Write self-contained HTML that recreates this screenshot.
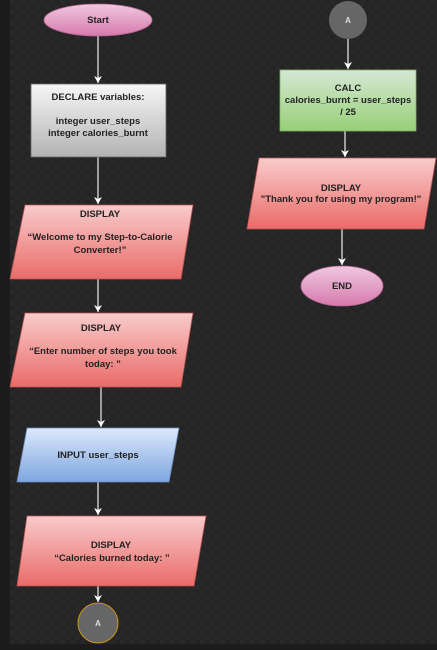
<!DOCTYPE html>
<html><head><style>
html,body{margin:0;padding:0;background:#1c1c1c;width:437px;height:650px;overflow:hidden}
svg{display:block}
text{font-family:"Liberation Sans",sans-serif;font-size:9.5px;font-weight:bold;fill:#222;text-anchor:middle}
</style></head><body>
<svg width="437" height="650" viewBox="0 0 437 650">
<defs>
<pattern id="g" width="10" height="10" patternUnits="userSpaceOnUse"><rect width="10" height="10" fill="#242424"/><rect width="5" height="5" fill="#282828"/><rect x="5" y="5" width="5" height="5" fill="#282828"/></pattern>
<linearGradient id="pk" x1="0" y1="0" x2="0" y2="1"><stop offset="0" stop-color="#f0c8e0"/><stop offset="1" stop-color="#d679ac"/></linearGradient>
<linearGradient id="gr" x1="0" y1="0" x2="0" y2="1"><stop offset="0" stop-color="#f6f6f6"/><stop offset="1" stop-color="#b3b3b3"/></linearGradient>
<linearGradient id="rd" x1="0" y1="0" x2="0" y2="1"><stop offset="0" stop-color="#f8cbcb"/><stop offset="1" stop-color="#ea6b68"/></linearGradient>
<linearGradient id="bl" x1="0" y1="0" x2="0" y2="1"><stop offset="0" stop-color="#dbe8fb"/><stop offset="1" stop-color="#7ea6e0"/></linearGradient>
<linearGradient id="gn" x1="0" y1="0" x2="0" y2="1"><stop offset="0" stop-color="#d5e8d4"/><stop offset="1" stop-color="#97d077"/></linearGradient>
<marker id="a" markerWidth="8" markerHeight="8" refX="7" refY="4" orient="auto" markerUnits="userSpaceOnUse"><path d="M0,0 L7,4 L0,8 L2,4 Z" fill="#fff"/></marker>
</defs>
<rect x="10" y="0" width="427" height="644" fill="url(#g)"/>
<g stroke="#eee" stroke-width="1.2" fill="none" marker-end="url(#a)">
<line x1="98" y1="36" x2="98" y2="83"/>
<line x1="98" y1="157" x2="98" y2="204"/>
<line x1="98" y1="279" x2="98" y2="312"/>
<line x1="101" y1="387" x2="101" y2="427"/>
<line x1="98" y1="482" x2="98" y2="515"/>
<line x1="98" y1="586" x2="98" y2="602"/>
<line x1="348" y1="39" x2="348" y2="69"/>
<line x1="345" y1="131" x2="345" y2="157"/>
<line x1="342" y1="229" x2="342" y2="265"/>
</g>
<ellipse cx="98" cy="20" rx="54" ry="16" fill="url(#pk)" stroke="#b46793" stroke-width="0.8"/>
<text x="98" y="23">Start</text>
<rect x="31" y="84" width="135" height="73" fill="url(#gr)" stroke="#666" stroke-width="0.8"/>
<text x="98" y="100">DECLARE variables:</text>
<text x="98" y="124">integer user_steps</text>
<text x="98" y="136">integer calories_burnt</text>
<polygon points="25,205 193,205 181,279 10,279" fill="url(#rd)" stroke="#b85450" stroke-width="0.8"/>
<text x="100" y="217">DISPLAY</text>
<text x="100" y="240">“Welcome to my Step-to-Calorie</text>
<text x="100" y="253">Converter!”</text>
<polygon points="25,313 193,313 181,387 10,387" fill="url(#rd)" stroke="#b85450" stroke-width="0.8"/>
<text x="101" y="331">DISPLAY</text>
<text x="103" y="354">“Enter number of steps you took</text>
<text x="103" y="367">today:  ”</text>
<polygon points="27,428 179,428 169,482 17,482" fill="url(#bl)" stroke="#6c8ebf" stroke-width="0.8"/>
<text x="98" y="458">INPUT user_steps</text>
<polygon points="27,516 206,516 194,586 17,586" fill="url(#rd)" stroke="#b85450" stroke-width="0.8"/>
<text x="111" y="548">DISPLAY</text>
<text x="112" y="561">“Calories burned today:  ”</text>
<circle cx="98" cy="623" r="20" fill="#666" stroke="#c8961e" stroke-width="1"/>
<text x="98" y="626" style="fill:#ddd;font-size:8px">A</text>
<circle cx="348" cy="20" r="19" fill="#666"/>
<text x="348" y="23" style="fill:#ddd;font-size:8px">A</text>
<rect x="280" y="70" width="136" height="61" fill="url(#gn)" stroke="#82b366" stroke-width="0.8"/>
<text x="348" y="91">CALC</text>
<text x="348" y="103">calories_burnt = user_steps</text>
<text x="348" y="115">/ 25</text>
<polygon points="259,158 436,158 424,229 247,229" fill="url(#rd)" stroke="#b85450" stroke-width="0.8"/>
<text x="341" y="191">DISPLAY</text>
<text x="341" y="202">"Thank you for using my program!"</text>
<ellipse cx="342" cy="286" rx="41" ry="20" fill="url(#pk)" stroke="#b46793" stroke-width="0.8"/>
<text x="342" y="289">END</text>
</svg>
</body></html>
